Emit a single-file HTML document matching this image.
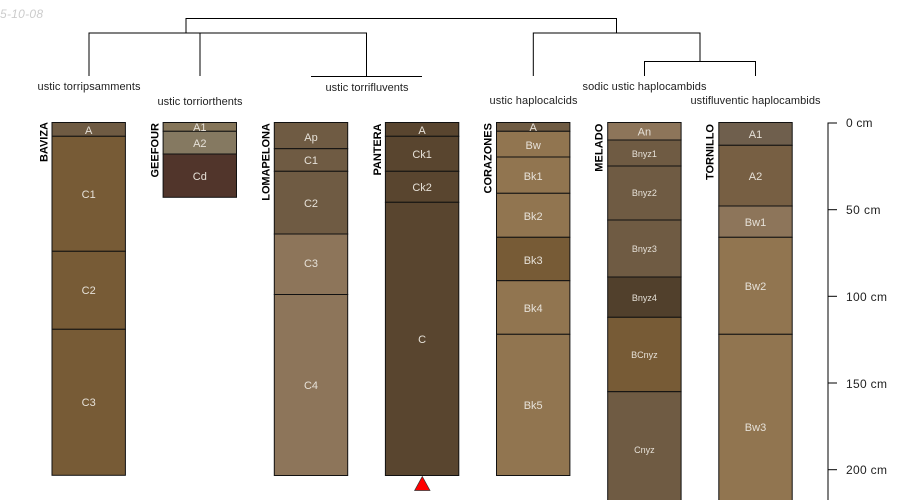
<!DOCTYPE html>
<html><head><meta charset="utf-8">
<style>html,body{margin:0;padding:0;background:#fff;width:900px;height:500px;overflow:hidden}svg{display:block}text{font-family:"Liberation Sans",sans-serif}.h rect{stroke:#111;stroke-width:1}.t text{font-size:11px;fill:#e6e1d8;text-anchor:middle}.t text.s{font-size:9px}</style>
</head><body>
<svg width="900" height="500" viewBox="0 0 900 500" xmlns="http://www.w3.org/2000/svg">
<text x="0" y="18" font-size="12" font-style="italic" fill="#cccccc" textLength="43">5-10-08</text>

<g fill="none" stroke="#000" stroke-width="1">
<path d="M186 33V18.500H616.500V33"/>
<path d="M89 76V33H283"/>
<path d="M200 76V33H366.500V76"/>
<path d="M311 76.500H422"/>
<path d="M533.300 76V33H700V61.500"/>
<path d="M644.500 76V61.500H755.500V76"/>
</g>

<g font-size="11" fill="#222" text-anchor="middle">
<text x="89" y="90" textLength="103">ustic torripsamments</text>
<text x="200" y="105" textLength="85">ustic torriorthents</text>
<text x="367" y="91" textLength="83">ustic torrifluvents</text>
<text x="533.500" y="104" textLength="88">ustic haplocalcids</text>
<text x="644.500" y="90" textLength="124">sodic ustic haplocambids</text>
<text x="755.500" y="104" textLength="130">ustifluventic haplocambids</text>
</g>

<g class="h" transform="translate(52,0)">
<rect x="0" y="122.500" width="73.400" height="13.800" fill="#6F5B43"/>
<rect x="0" y="136.300" width="73.400" height="115" fill="#775B36"/>
<rect x="0" y="251.300" width="73.400" height="78" fill="#775B36"/>
<rect x="0" y="329.300" width="73.400" height="146" fill="#775B36"/>
</g>
<g class="t" transform="translate(88.700,0)"><text y="134">A</text><text y="198">C1</text><text y="294">C2</text><text y="406">C3</text></g>

<g class="h" transform="translate(163.100,0)">
<rect x="0" y="122.500" width="73.400" height="8.800" fill="#857559"/>
<rect x="0" y="131.300" width="73.400" height="22.700" fill="#857961"/>
<rect x="0" y="154" width="73.400" height="43.300" fill="#51352B"/>
</g>
<g class="t" transform="translate(199.800,0)"><text y="131">A1</text><text y="147">A2</text><text y="180">Cd</text></g>

<g class="h" transform="translate(274.300,0)">
<rect x="0" y="122.500" width="73.400" height="26.200" fill="#6F5B43"/>
<rect x="0" y="148.700" width="73.400" height="22.600" fill="#6F5B43"/>
<rect x="0" y="171.300" width="73.400" height="62.700" fill="#6F5B43"/>
<rect x="0" y="234" width="73.400" height="60.500" fill="#8D755A"/>
<rect x="0" y="294.500" width="73.400" height="181" fill="#8D755A"/>
</g>
<g class="t" transform="translate(311,0)"><text y="141">Ap</text><text y="164">C1</text><text y="207">C2</text><text y="267">C3</text><text y="389">C4</text></g>

<g class="h" transform="translate(385.400,0)">
<rect x="0" y="122.500" width="73.400" height="13.800" fill="#59452F"/>
<rect x="0" y="136.300" width="73.400" height="35" fill="#59452F"/>
<rect x="0" y="171.300" width="73.400" height="31" fill="#59452F"/>
<rect x="0" y="202.300" width="73.400" height="273.200" fill="#59452F"/>
</g>
<g class="t" transform="translate(422.100,0)"><text y="134">A</text><text y="158">Ck1</text><text y="191">Ck2</text><text y="343">C</text></g>

<g class="h" transform="translate(496.500,0)">
<rect x="0" y="122.500" width="73.400" height="8.800" fill="#6F5B43"/>
<rect x="0" y="131.300" width="73.400" height="25.700" fill="#917550"/>
<rect x="0" y="157" width="73.400" height="36.300" fill="#917550"/>
<rect x="0" y="193.300" width="73.400" height="44" fill="#917550"/>
<rect x="0" y="237.300" width="73.400" height="43.400" fill="#775B36"/>
<rect x="0" y="280.700" width="73.400" height="53.600" fill="#917550"/>
<rect x="0" y="334.300" width="73.400" height="141.200" fill="#917550"/>
</g>
<g class="t" transform="translate(533.200,0)"><text y="131">A</text><text y="149">Bw</text><text y="180">Bk1</text><text y="220">Bk2</text><text y="264">Bk3</text><text y="312">Bk4</text><text y="409">Bk5</text></g>

<g class="h" transform="translate(607.700,0)">
<rect x="0" y="122.500" width="73.400" height="17.500" fill="#8D755A"/>
<rect x="0" y="140" width="73.400" height="26" fill="#6F5B43"/>
<rect x="0" y="166" width="73.400" height="54" fill="#6F5B43"/>
<rect x="0" y="220" width="73.400" height="57" fill="#6F5B43"/>
<rect x="0" y="277" width="73.400" height="40.300" fill="#51402C"/>
<rect x="0" y="317.300" width="73.400" height="74.400" fill="#775B36"/>
<rect x="0" y="391.700" width="73.400" height="120" fill="#6F5B43"/>
</g>
<g class="t" transform="translate(644.400,0)"><text y="135.500">An</text><text class="s" y="157">Bnyz1</text><text class="s" y="196">Bnyz2</text><text class="s" y="252">Bnyz3</text><text class="s" y="301">Bnyz4</text><text class="s" y="358">BCnyz</text><text class="s" y="453">Cnyz</text></g>

<g class="h" transform="translate(718.800,0)">
<rect x="0" y="122.500" width="73.400" height="22.800" fill="#6F5F4D"/>
<rect x="0" y="145.300" width="73.400" height="60.700" fill="#775F43"/>
<rect x="0" y="206" width="73.400" height="31.300" fill="#8D755A"/>
<rect x="0" y="237.300" width="73.400" height="97" fill="#917550"/>
<rect x="0" y="334.300" width="73.400" height="180" fill="#917550"/>
</g>
<g class="t" transform="translate(755.500,0)"><text y="138">A1</text><text y="180">A2</text><text y="226">Bw1</text><text y="290">Bw2</text><text y="431">Bw3</text></g>

<g font-size="11" font-weight="bold" fill="#000">
<text transform="translate(47.700,162) rotate(-90)" textLength="40">BAVIZA</text>
<text transform="translate(158.500,177.500) rotate(-90)" textLength="54.500">GEEFOUR</text>
<text transform="translate(269.500,200.700) rotate(-90)" textLength="77.500">LOMAPELONA</text>
<text transform="translate(381,175.500) rotate(-90)" textLength="52">PANTERA</text>
<text transform="translate(491.700,193.500) rotate(-90)" textLength="70.500">CORAZONES</text>
<text transform="translate(602.700,171.700) rotate(-90)" textLength="48">MELADO</text>
<text transform="translate(713.700,180) rotate(-90)" textLength="56">TORNILLO</text>
</g>

<polygon points="422.300,476.500 430,490.500 414.600,490.500" fill="#f00" stroke="#333" stroke-width="0.700"/>

<g stroke="#000" stroke-width="1" fill="none">
<path d="M828 500V123H837"/><path d="M828 209.700H837"/><path d="M828 296.300H837"/><path d="M828 383H837"/><path d="M828 469.700H837"/>
</g>
<g font-size="12" fill="#222">
<text x="846" y="127" textLength="26.500">0 cm</text>
<text x="846" y="214" textLength="34.500">50 cm</text>
<text x="846" y="301" textLength="41">100 cm</text>
<text x="846" y="388" textLength="41">150 cm</text>
<text x="846" y="474" textLength="41">200 cm</text>
</g>
</svg>
</body></html>
